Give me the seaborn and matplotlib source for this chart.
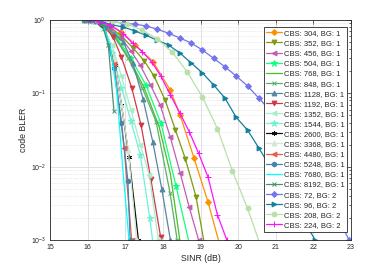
import numpy as np
import pandas as pd
import matplotlib
matplotlib.use("Agg")
import matplotlib.pyplot as plt
import seaborn as sns
from matplotlib.ticker import LogLocator, NullFormatter, FixedLocator

# ---------------- data ----------------
labels = ["CBS: 304, BG: 1", "CBS: 352, BG: 1", "CBS: 456, BG: 1", "CBS: 504, BG: 1",
          "CBS: 768, BG: 1", "CBS: 848, BG: 1", "CBS: 1128, BG: 1", "CBS: 1192, BG: 1",
          "CBS: 1352, BG: 1", "CBS: 1544, BG: 1", "CBS: 2600, BG: 1", "CBS: 3368, BG: 1",
          "CBS: 4480, BG: 1", "CBS: 5248, BG: 1", "CBS: 7680, BG: 1", "CBS: 8192, BG: 1",
          "CBS: 72, BG: 2", "CBS: 96, BG: 2", "CBS: 208, BG: 2", "CBS: 224, BG: 2"]

sinr_304 = [16.0, 16.3, 16.6, 16.9, 17.26, 17.74, 18.2, 18.46, 18.83, 19.2, 19.5]
bler_304 = [1.0, 0.95, 0.85, 0.69, 0.46, 0.27, 0.11, 0.05, 0.013, 0.0033, 0.0009]

sinr_352 = [16.0, 16.3, 16.6, 16.9, 17.2, 17.5, 17.77, 18.06, 18.33, 18.6, 18.88, 19.1]
bler_352 = [1.0, 0.93, 0.8, 0.6, 0.42, 0.28, 0.17, 0.081, 0.032, 0.0127, 0.0039, 0.0009]

sinr_456 = [16.0, 16.3, 16.6, 16.9, 17.15, 17.4, 17.67, 17.93, 18.2, 18.46, 18.7, 18.95]
bler_456 = [1.0, 0.93, 0.77, 0.55, 0.38, 0.24, 0.13, 0.069, 0.025, 0.0082, 0.0028, 0.001]

sinr_504 = [15.95, 16.35, 16.75, 17.15, 17.55, 17.95, 18.35, 18.75]
bler_504 = [1.0, 0.92, 0.6, 0.3, 0.13, 0.039, 0.0054, 0.0007]

sinr_768 = [15.9, 16.3, 16.7, 17.1, 17.5, 17.9, 18.2, 18.45]
bler_768 = [1.0, 0.92, 0.62, 0.3, 0.12, 0.035, 0.008, 0.001]

sinr_848 = [15.9, 16.3, 16.7, 17.08, 17.45, 17.82, 18.19, 18.38]
bler_848 = [1.0, 0.93, 0.6, 0.3, 0.12, 0.041, 0.0044, 0.001]

sinr_1128 = [15.9, 16.2, 16.45, 16.7, 16.95, 17.2, 17.47, 17.73, 17.97, 18.2]
bler_1128 = [1.0, 0.96, 0.85, 0.65, 0.5, 0.26, 0.085, 0.022, 0.005, 0.001]

sinr_1192 = [15.9, 16.15, 16.4, 16.68, 16.9, 17.17, 17.42, 17.68, 17.94]
bler_1192 = [1.0, 0.98, 0.88, 0.58, 0.31, 0.12, 0.037, 0.0068, 0.0011]

sinr_1352 = [15.9, 16.15, 16.4, 16.65, 16.9, 17.15, 17.4, 17.64, 17.88]
bler_1352 = [1.0, 0.97, 0.82, 0.45, 0.17, 0.06, 0.02, 0.0077, 0.001]

sinr_1544 = [15.9, 16.15, 16.4, 16.65, 16.9, 17.15, 17.4, 17.65, 17.75]
bler_1544 = [1.0, 0.96, 0.78, 0.35, 0.12, 0.042, 0.0145, 0.002, 0.0008]

sinr_2600 = [15.9, 16.2, 16.45, 16.73, 16.9, 17.1, 17.35]
bler_2600 = [1.0, 0.96, 0.75, 0.24, 0.07, 0.0135, 0.001]

sinr_3368 = [15.9, 16.2, 16.45, 16.7, 16.9, 17.08, 17.3]
bler_3368 = [1.0, 0.97, 0.8, 0.3, 0.07, 0.017, 0.001]

sinr_4480 = [15.9, 16.2, 16.45, 16.7, 16.97, 17.17]
bler_4480 = [1.0, 0.97, 0.78, 0.25, 0.018, 0.001]

sinr_5248 = [15.9, 16.2, 16.45, 16.7, 16.9, 17.07, 17.13]
bler_5248 = [1.0, 0.97, 0.8, 0.22, 0.04, 0.0064, 0.001]

sinr_7680 = [15.9, 16.2, 16.4, 16.6, 16.78, 16.93, 17.1]
bler_7680 = [1.0, 0.98, 0.88, 0.45, 0.1, 0.01, 0.001]

sinr_8192 = [15.9, 16.15, 16.4, 16.55, 16.7]
bler_8192 = [1.0, 0.98, 0.85, 0.45, 0.057]

sinr_72 = [16.05, 16.35, 16.65, 16.95, 17.25, 17.55, 17.85, 18.15, 18.45, 18.75, 19.05,
           19.35, 19.65, 19.95, 20.25, 20.55, 20.85, 21.15, 21.45, 21.75, 22.05, 22.35,
           22.65, 22.95]
bler_72 = [1.0, 0.99, 0.96, 0.9, 0.88, 0.83, 0.75, 0.66, 0.57, 0.486, 0.39, 0.30, 0.23,
           0.172, 0.126, 0.086, 0.058, 0.037, 0.023, 0.0135, 0.0075, 0.004, 0.002, 0.001]

sinr_96 = [16.05, 16.35, 16.65, 16.95, 17.25, 17.55, 17.85, 18.15, 18.45, 18.75, 19.05,
           19.35, 19.65, 19.95, 20.25, 20.55, 20.85, 21.15, 21.45, 21.75, 22.05]
bler_96 = [1.0, 0.95, 0.86, 0.8, 0.71, 0.62, 0.53, 0.456, 0.355, 0.26, 0.19, 0.13, 0.086,
           0.047, 0.0315, 0.018, 0.01, 0.0057, 0.0032, 0.0018, 0.001]

sinr_208 = [16.25, 16.65, 17.05, 17.45, 17.85, 18.25, 18.65, 19.05, 19.45, 19.85, 20.25, 20.65]
bler_208 = [1.0, 0.96, 0.88, 0.73, 0.55, 0.366, 0.195, 0.089, 0.033, 0.0087, 0.0027, 0.0007]

sinr_224 = [16.0, 16.3, 16.6, 16.95, 17.2, 17.45, 17.7, 17.95, 18.2, 18.45, 18.7, 18.95,
            19.2, 19.45, 19.7]
bler_224 = [1.0, 0.95, 0.85, 0.65, 0.48, 0.37, 0.27, 0.17, 0.095, 0.054, 0.030, 0.0152,
            0.0072, 0.0022, 0.001]

x_ticks = [15, 16, 17, 18, 19, 20, 21, 22, 23]
x_label = "SINR (dB)"
y_label = "code BLER"

series = [
    (sinr_304, bler_304), (sinr_352, bler_352), (sinr_456, bler_456), (sinr_504, bler_504),
    (sinr_768, bler_768), (sinr_848, bler_848), (sinr_1128, bler_1128), (sinr_1192, bler_1192),
    (sinr_1352, bler_1352), (sinr_1544, bler_1544), (sinr_2600, bler_2600), (sinr_3368, bler_3368),
    (sinr_4480, bler_4480), (sinr_5248, bler_5248), (sinr_7680, bler_7680), (sinr_8192, bler_8192),
    (sinr_72, bler_72), (sinr_96, bler_96), (sinr_208, bler_208), (sinr_224, bler_224),
]

# ---------------- styles ----------------
colors = ["#ff9000", "#7f9a10", "#c45cb4", "#10ff80", "#44c020", "#5aae6e", "#5587a2",
          "#d03848", "#a8ecc8", "#70f2d2", "#101010", "#d4e6d4", "#ec5a4e", "#4a82aa",
          "#00ffff", "#4c9070", "#7474ec", "#12809c", "#b8e0a8", "#ff10ff"]
markers = ["D", "v", "<", "*", None, "x", "^", "v", "<", "*", (6, 2, 0), "^", "<", "h",
           None, "x", "D", ">", "o", "+"]
msizes = [3, 3.5, 3.5, 4.5, 0, 3, 3.5, 3.5, 3.5, 4.5, 3.5, 3.5, 3.5, 3.5, 0, 3, 3, 3.5, 3.5, 4]

sns.set_theme(style="white")
plt.rcParams["font.family"] = ["Liberation Sans", "DejaVu Sans"]
plt.rcParams["mathtext.fontset"] = "custom"
plt.rcParams["mathtext.rm"] = "Liberation Sans"
plt.rcParams["mathtext.it"] = "Liberation Sans"

fig = plt.figure(figsize=(3.9, 2.7), dpi=100)
ax = fig.add_axes([50 / 390, 30 / 270, 301 / 390, 220 / 270])

for (xs, ys), lab, c, m, ms in zip(series, labels, colors, markers, msizes):
    df = pd.DataFrame({"x": xs, "y": ys})
    if m is not None:
        kw = dict(marker=m, markersize=ms, markeredgewidth=0.7,
                  markerfacecolor=c, markeredgecolor=c)
    else:
        kw = {}
    sns.lineplot(data=df, x="x", y="y", ax=ax, color=c, linewidth=0.9, label=lab,
                 sort=False, estimator=None, linestyle="-", **kw)

ax.set_yscale("log")
ax.set_xlim(15, 23)
ax.set_ylim(1e-3, 1)
ax.xaxis.set_major_locator(FixedLocator(x_ticks))
ax.set_xticklabels([str(t) for t in x_ticks])
ax.yaxis.set_major_locator(LogLocator(base=10, numticks=10))
ax.yaxis.set_minor_locator(LogLocator(base=10, subs=np.arange(2, 10), numticks=20))
ax.yaxis.set_minor_formatter(NullFormatter())

ax.grid(True, which="major", axis="both", color="#dcdcdc", linewidth=0.6, linestyle="-")
ax.grid(True, which="minor", axis="y", color="#d8d8d8", linewidth=0.5, linestyle=(0, (1, 1.5)))
ax.set_axisbelow(True)

for s in ax.spines.values():
    s.set_color("#262626")
    s.set_linewidth(0.6)
    s.set_visible(True)
ax.tick_params(which="both", direction="in", top=True, right=True, colors="#262626",
               labelsize=5, width=0.5, pad=3)
ax.tick_params(which="major", length=3)
ax.tick_params(which="minor", length=1.5)

ax.set_xlabel(x_label, fontsize=6.3, color="#262626", labelpad=2)
ax.set_ylabel(y_label, fontsize=6.3, color="#262626", labelpad=2)

leg = ax.legend(loc="upper right", bbox_to_anchor=(0.988, 0.968), borderaxespad=0,
                fontsize=5.5, frameon=True, fancybox=False, framealpha=1,
                edgecolor="#262626", labelspacing=0.36, handlelength=2.0,
                handletextpad=0.3, borderpad=0.35)
leg.get_frame().set_linewidth(0.6)

fig.savefig("out.png", dpi=100)
